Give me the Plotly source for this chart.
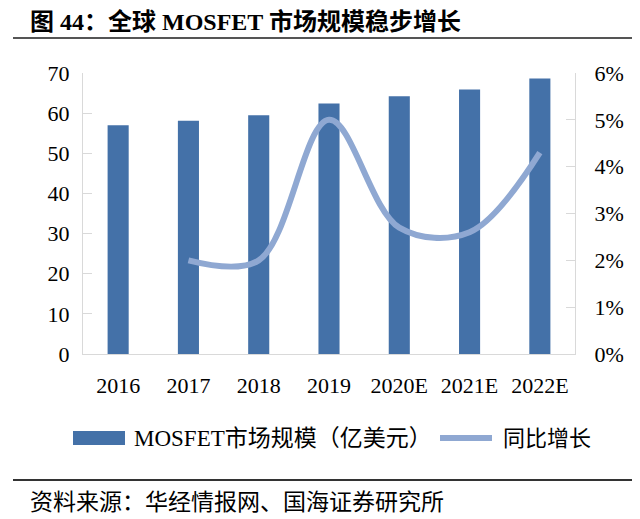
import plotly.graph_objects as go

# data
years = ["2016", "2017", "2018", "2019", "2020E", "2021E", "2022E"]
market_size = [57.0, 58.1, 59.5, 62.4, 64.2, 65.9, 68.6]  # 亿美元
growth_years = ["2017", "2018", "2019", "2020E", "2021E", "2022E"]
growth = [0.020, 0.020, 0.050, 0.027, 0.026, 0.043]

BAR_COLOR = "#4471A8"
LINE_COLOR = "#8FA8D2"
SERIF = "Liberation Serif, Noto Sans CJK SC"

# the page adds an 8px body margin, so the figure is drawn 8px smaller
OFF = 8
W, H = 640 - OFF, 519 - OFF
L, R, T, B = 83 - OFF, 65, 73 - OFF, 165  # plot area margins in px


def px(x):
    return (x - OFF - L) / (W - L - R)


def py(y):
    return (H - B - (y - OFF)) / (H - T - B)


fig = go.Figure()
fig.add_trace(go.Bar(
    x=years, y=market_size, name="MOSFET市场规模（亿美元）",
    marker=dict(color=BAR_COLOR, line=dict(width=0)), width=0.3,
))
fig.add_trace(go.Scatter(
    x=growth_years, y=growth, name="同比增长", yaxis="y2",
    mode="lines", line=dict(color=LINE_COLOR, width=6, shape="spline", smoothing=1.0),
))

fig.update_layout(
    width=W, height=H,
    margin=dict(l=L, r=R, t=T, b=B),
    paper_bgcolor="white", plot_bgcolor="white",
    font=dict(family=SERIF, size=22, color="#000000"),
    showlegend=False,
    xaxis=dict(
        showline=True, linecolor="#D9D9D9", linewidth=1, ticks="",
        showgrid=False, ticklabelstandoff=12,
        tickfont=dict(family=SERIF, size=22),
    ),
    yaxis=dict(
        range=[0, 70], dtick=10, showgrid=False, zeroline=False,
        showline=True, linecolor="#D9D9D9", linewidth=1,
        ticks="inside", ticklen=9, tickcolor="#D9D9D9",
        ticklabelstandoff=8, tickfont=dict(family=SERIF, size=22),
    ),
    yaxis2=dict(
        overlaying="y", side="right", range=[0, 0.06], dtick=0.01,
        tickformat=".0%", showgrid=False, zeroline=False,
        showline=True, linecolor="#D9D9D9", linewidth=1,
        ticks="inside", ticklen=9, tickcolor="#D9D9D9",
        ticklabelstandoff=14, tickfont=dict(family=SERIF, size=22),
    ),
)

# title and source lines
fig.add_annotation(
    text="<b>图 44：全球 MOSFET 市场规模稳步增长</b>", xref="paper", yref="paper",
    x=px(29), y=py(8), xanchor="left", yanchor="top", showarrow=False,
    borderpad=0, font=dict(family=SERIF, size=24, color="#000000"),
)
fig.add_shape(type="line", xref="paper", yref="paper",
              x0=px(13), x1=px(640), y0=py(38), y1=py(38),
              line=dict(color="#555555", width=2))
fig.add_shape(type="line", xref="paper", yref="paper",
              x0=px(13), x1=px(640), y0=py(480), y1=py(480),
              line=dict(color="#333333", width=2))
fig.add_annotation(
    text="资料来源：华经情报网、国海证券研究所", xref="paper", yref="paper",
    x=px(28), y=py(502), xanchor="left", yanchor="middle", showarrow=False,
    font=dict(family=SERIF, size=23, color="#000000"),
)

# legend drawn by hand to get the wide swatches
fig.add_shape(type="rect", xref="paper", yref="paper",
              x0=px(73), x1=px(125), y0=py(431), y1=py(445),
              fillcolor=BAR_COLOR, line=dict(width=0))
fig.add_annotation(
    text="MOSFET市场规模（亿美元）", xref="paper", yref="paper",
    x=px(132), y=py(438), xanchor="left", yanchor="middle", showarrow=False,
    font=dict(family=SERIF, size=23, color="#000000"),
)
fig.add_shape(type="line", xref="paper", yref="paper",
              x0=px(440), x1=px(492), y0=py(438), y1=py(438),
              line=dict(color=LINE_COLOR, width=6))
fig.add_annotation(
    text="同比增长", xref="paper", yref="paper",
    x=px(501), y=py(438), xanchor="left", yanchor="middle", showarrow=False,
    font=dict(family=SERIF, size=22, color="#000000"),
)

fig.write_html("out.html")
